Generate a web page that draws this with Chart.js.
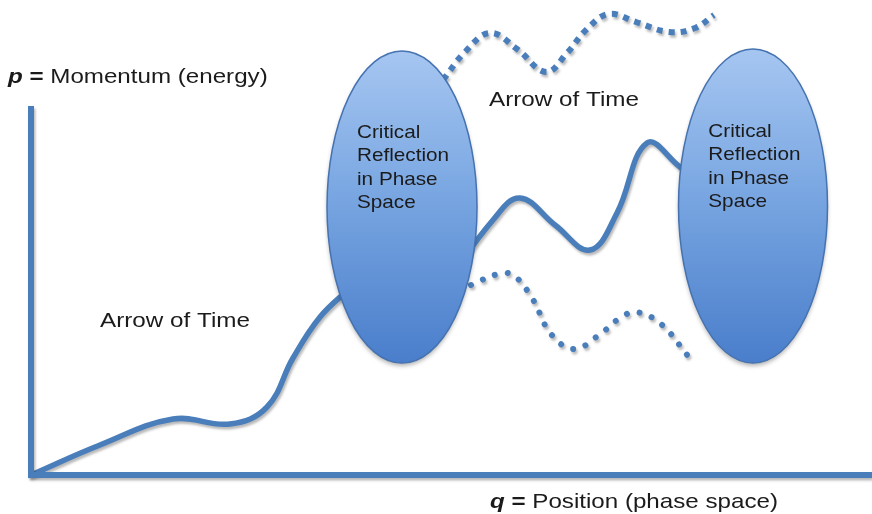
<!DOCTYPE html>
<html>
<head>
<meta charset="utf-8">
<script src="https://cdn.jsdelivr.net/npm/chart.js@4.4.1/dist/chart.umd.min.js"></script>
<style>
  html, body { margin: 0; padding: 0; background: #ffffff; }
  #wrap { width: 872px; height: 514px; }
</style>
</head>
<body>
<div id="wrap"><canvas id="c" width="872" height="514"></canvas></div>
<script>
// q = position, p = momentum (arbitrary units, origin at the axes corner)
var axisQ = [0, 0, 84.1];
var axisP = [36.9, 0, 0];

// trajectory up to the first reflection
var riseQ = [0, 6.9, 14.2, 19.9, 23.6, 26.2, 28.9, 31.9];
var riseP = [0, 3.0, 5.6, 5.1, 6.8, 11.7, 15.8, 18.7];

// trajectory between the two reflections
var waveQ = [41.4, 46.2, 48.9, 52.4, 55.9, 58.6, 61.6, 64.9, 66.9];
var waveP = [19.0, 25.5, 27.7, 25.0, 22.5, 26.2, 33.2, 30.8, 29.3];

// dotted upper branch
var upperQ = [41.2, 43.4, 45.9, 48.6, 51.5, 53.6, 55.6, 57.8, 60.5, 63.8, 66.4, 68.3];
var upperP = [39.5, 42.3, 44.2, 42.6, 40.3, 42.2, 44.6, 46.1, 45.3, 44.3, 44.7, 46.0];

// dotted lower branch
var lowerQ = [44.0, 46.7, 48.2, 50.1, 52.0, 54.3, 56.8, 58.9, 60.5, 63.0, 65.7];
var lowerP = [19.0, 20.1, 20.0, 17.7, 14.1, 12.6, 14.0, 15.7, 16.3, 15.1, 11.9];

// reflection regions in phase space (centre and half-axes)
var regionQ = [37.1, 72.2];
var regionP = [26.8, 26.9];
var regionRq = [7.5, 7.45];
var regionRp = [15.6, 15.7];
var regionText = ["Critical", "Reflection", "in Phase", "Space"];

var arrowText = ["Arrow of Time", "Arrow of Time"];
var arrowQ = [45.8, 6.9];
var arrowP = [36.9, 14.8];

function pts(qs, ps) {
    return qs.map(function (q, i) { return { x: q, y: ps[i] }; });
}

var blue = "#4a7ebb";
var font = "'Liberation Sans', Arial, sans-serif";

function drawParts(ctx, parts, x, y, size, sx) {
    ctx.save();
    ctx.translate(x, y);
    ctx.scale(sx, 1);
    var cx = 0;
    parts.forEach(function (pt) {
        ctx.font = pt.f + " " + size + "px " + font;
        ctx.fillText(pt.t, cx, 0);
        cx += ctx.measureText(pt.t).width;
    });
    ctx.restore();
}

var deco = {
    id: "deco",
    beforeDatasetDraw: function (chart) {
        var ctx = chart.ctx;
        ctx.save();
        ctx.shadowColor = "rgba(0,0,0,0.28)";
        ctx.shadowOffsetX = 1.5;
        ctx.shadowOffsetY = 2.5;
        ctx.shadowBlur = 2.5;
    },
    afterDatasetDraw: function (chart) {
        chart.ctx.restore();
    },
    afterDatasetsDraw: function (chart) {
        var ctx = chart.ctx;
        var xs = chart.scales.x, ys = chart.scales.y;
        // ellipses
        for (var i = 0; i < regionQ.length; i++) {
            var cx = xs.getPixelForValue(regionQ[i]);
            var cy = ys.getPixelForValue(regionP[i]);
            var rx = xs.getPixelForValue(regionQ[i] + regionRq[i]) - cx;
            var ry = cy - ys.getPixelForValue(regionP[i] + regionRp[i]);
            var g = ctx.createLinearGradient(0, cy - ry, 0, cy + ry);
            g.addColorStop(0, "#a6c6f1");
            g.addColorStop(0.45, "#7aa7e2");
            g.addColorStop(1, "#4a7ecb");
            ctx.save();
            ctx.shadowColor = "rgba(0,0,0,0.3)";
            ctx.shadowOffsetY = 3;
            ctx.shadowBlur = 4;
            ctx.beginPath();
            ctx.ellipse(cx, cy, rx, ry, 0, 0, Math.PI * 2);
            ctx.fillStyle = g;
            ctx.fill();
            ctx.restore();
            ctx.beginPath();
            ctx.ellipse(cx, cy, rx, ry, 0, 0, Math.PI * 2);
            ctx.lineWidth = 1.5;
            ctx.strokeStyle = "#4572b0";
            ctx.stroke();
            // label inside
            ctx.fillStyle = "#1b1b1b";
            ctx.textBaseline = "alphabetic";
            var tx = cx - rx * 0.6;
            var ty = cy - 69;
            regionText.forEach(function (line, k) {
                drawParts(ctx, [{ t: line, f: "" }], tx, ty + k * 23.4, 18.5, 1.12);
            });
        }
        // arrow labels
        ctx.fillStyle = "#1b1b1b";
        arrowText.forEach(function (t, k) {
            drawParts(ctx, [{ t: t, f: "" }], xs.getPixelForValue(arrowQ[k]), ys.getPixelForValue(arrowP[k]), 21, 1.155);
        });
        // axis titles
        drawParts(ctx, [{ t: "p", f: "italic bold" }, { t: " = ", f: "bold" }, { t: "Momentum (energy)", f: "" }],
            xs.getPixelForValue(-2.3), ys.getPixelForValue(39.2), 21, 1.15);
        drawParts(ctx, [{ t: "q", f: "italic bold" }, { t: " = ", f: "bold" }, { t: "Position (phase space)", f: "" }],
            xs.getPixelForValue(45.9), ys.getPixelForValue(-3.3), 21, 1.15);
    }
};

var smooth = { showLine: true, borderColor: blue, pointRadius: 0, tension: 0.4 };

new Chart(document.getElementById("c"), {
    type: "scatter",
    data: {
        datasets: [
            { data: pts(axisQ, axisP), showLine: true, borderColor: blue, borderWidth: 6, tension: 0, pointRadius: 0, borderJoinStyle: "miter", borderCapStyle: "butt" },
            Object.assign({ data: pts(riseQ, riseP), borderWidth: 5.5, borderCapStyle: "round" }, smooth),
            Object.assign({ data: pts(waveQ, waveP), borderWidth: 5.5, borderCapStyle: "round" }, smooth),
            Object.assign({ data: pts(upperQ, upperP), borderWidth: 6, borderDash: [6, 6], borderCapStyle: "butt" }, smooth),
            Object.assign({ data: pts(lowerQ, lowerP), borderWidth: 6, borderDash: [0.01, 13], borderCapStyle: "round" }, smooth)
        ]
    },
    options: {
        responsive: false,
        animation: false,
        devicePixelRatio: 1,
        layout: { padding: 0 },
        plugins: { legend: { display: false }, tooltip: { enabled: false } },
        scales: {
            x: { type: "linear", min: -3.1, max: 84.1, display: false },
            y: { type: "linear", min: -3.9, max: 47.5, display: false }
        }
    },
    plugins: [deco]
});
</script>
</body>
</html>
